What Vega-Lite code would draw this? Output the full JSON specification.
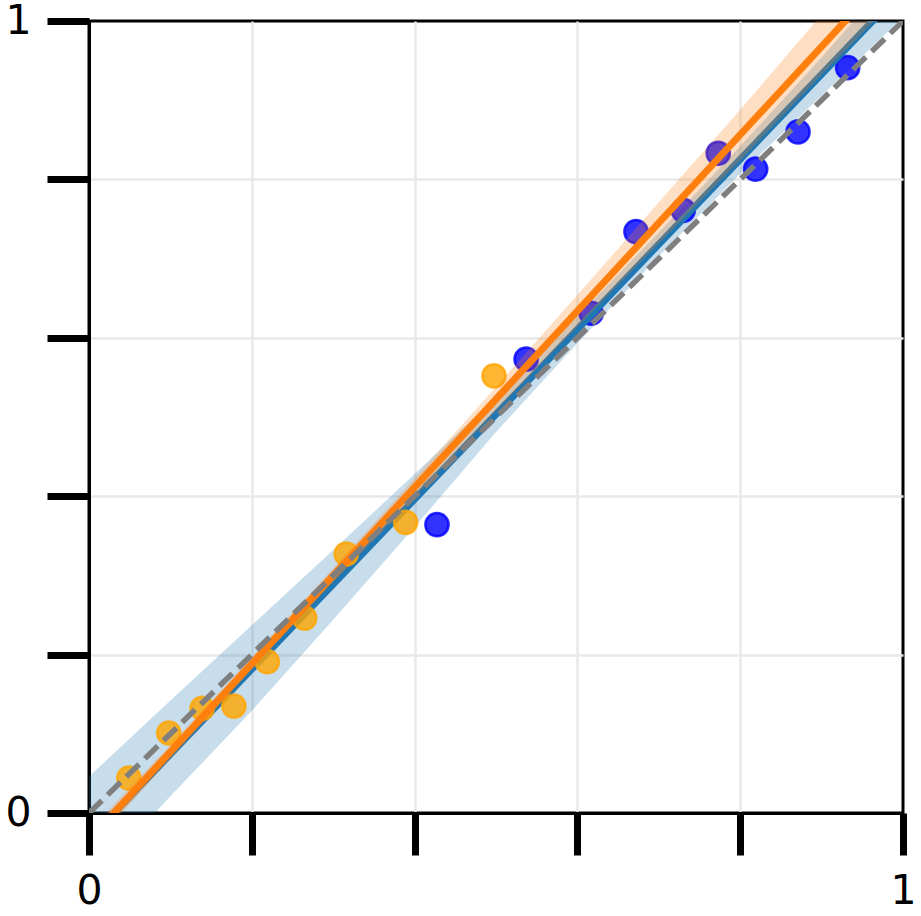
{
  "$schema": "https://vega.github.io/schema/vega-lite/v6.json",
  "width": 814,
  "height": 792,
  "autosize": {"type": "none"},
  "padding": {"left": 89, "top": 21, "right": 18, "bottom": 103},
  "background": "white",
  "config": {
    "view": {"stroke": "black", "strokeWidth": 3},
    "axis": {
      "tickSize": 42,
      "tickWidth": 7,
      "tickColor": "black",
      "domain": true,
      "domainColor": "black",
      "domainWidth": 3,
      "grid": true,
      "gridColor": "#e8e8e8",
      "gridWidth": 2.5,
      "gridOpacity": {"condition": {"test": "datum.value == 0 || datum.value == 1", "value": 0}, "value": 1},
      "labelFont": "DejaVu Sans",
      "labelFontSize": 41,
      "labelColor": "black",
      "labelPadding": 16,
      "labelFlush": false,
      "labelOverlap": false,
      "title": null
    }
  },
  "datasets": {
    "orangePts": [
      {"x": 0.049, "y": 0.044},
      {"x": 0.098, "y": 0.101},
      {"x": 0.139, "y": 0.132},
      {"x": 0.178, "y": 0.135},
      {"x": 0.219, "y": 0.191},
      {"x": 0.265, "y": 0.246},
      {"x": 0.316, "y": 0.327},
      {"x": 0.389, "y": 0.367},
      {"x": 0.4975, "y": 0.552}
    ],
    "bluePts": [
      {"x": 0.4275, "y": 0.364},
      {"x": 0.537, "y": 0.573},
      {"x": 0.617, "y": 0.631},
      {"x": 0.672, "y": 0.734},
      {"x": 0.730, "y": 0.761},
      {"x": 0.773, "y": 0.833},
      {"x": 0.819, "y": 0.813},
      {"x": 0.871, "y": 0.860},
      {"x": 0.932, "y": 0.941}
    ],
    "blueBand": [
      {"x": 0.0, "lo": -0.089, "hi": 0.046},
      {"x": 0.1, "lo": 0.021, "hi": 0.142},
      {"x": 0.2, "lo": 0.129, "hi": 0.237},
      {"x": 0.3, "lo": 0.244, "hi": 0.332},
      {"x": 0.4, "lo": 0.361, "hi": 0.428},
      {"x": 0.5, "lo": 0.481, "hi": 0.526},
      {"x": 0.6, "lo": 0.593, "hi": 0.627},
      {"x": 0.7, "lo": 0.703, "hi": 0.733},
      {"x": 0.8, "lo": 0.807, "hi": 0.842},
      {"x": 0.9, "lo": 0.906, "hi": 0.954},
      {"x": 1.0, "lo": 1.005, "hi": 1.071}
    ],
    "orangeBand": [
      {"x": 0.0, "lo": -0.046, "hi": -0.022},
      {"x": 0.1, "lo": 0.068, "hi": 0.086},
      {"x": 0.2, "lo": 0.181, "hi": 0.197},
      {"x": 0.3, "lo": 0.291, "hi": 0.309},
      {"x": 0.4, "lo": 0.399, "hi": 0.423},
      {"x": 0.5, "lo": 0.508, "hi": 0.538},
      {"x": 0.6, "lo": 0.614, "hi": 0.654},
      {"x": 0.7, "lo": 0.719, "hi": 0.771},
      {"x": 0.8, "lo": 0.824, "hi": 0.888},
      {"x": 0.9, "lo": 0.932, "hi": 1.008},
      {"x": 1.0, "lo": 1.037, "hi": 1.126}
    ],
    "blueLine": [
      {"x": 0.0, "y": -0.033},
      {"x": 1.0, "y": 1.040}
    ],
    "orangeLine": [
      {"x": 0.0, "y": -0.034},
      {"x": 1.0, "y": 1.079}
    ],
    "diag": [
      {"x": 0.0, "y": 0.0},
      {"x": 1.0, "y": 1.0}
    ]
  },
  "encoding": {
    "x": {"field": "x", "type": "quantitative", "scale": {"domain": [0, 1], "nice": false, "zero": false},
      "axis": {"values": [0, 0.2, 0.4, 0.6, 0.8, 1], "labelExpr": "datum.value == 0 ? '0' : (datum.value == 1 ? '1' : '')"}},
    "y": {"field": "y", "type": "quantitative", "scale": {"domain": [0, 1], "nice": false, "zero": false},
      "axis": {"values": [0, 0.2, 0.4, 0.6, 0.8, 1], "labelExpr": "datum.value == 0 ? '0' : (datum.value == 1 ? '1' : '')"}}
  },
  "layer": [
    {
      "data": {"name": "blueBand"},
      "mark": {"type": "area", "color": "#1f77b4", "opacity": 0.25, "clip": true},
      "encoding": {
        "y": {"field": "lo", "type": "quantitative"},
        "y2": {"field": "hi"}
      }
    },
    {
      "data": {"name": "bluePts"},
      "mark": {"type": "point", "filled": false, "fill": "blue", "fillOpacity": 0.8, "stroke": "blue", "strokeOpacity": 0.8, "strokeWidth": 2.5, "size": 540, "opacity": 1}
    },
    {
      "data": {"name": "blueLine"},
      "mark": {"type": "line", "color": "#1f77b4", "strokeWidth": 7, "clip": true}
    },
    {
      "data": {"name": "orangePts"},
      "mark": {"type": "point", "filled": false, "fill": "orange", "fillOpacity": 0.8, "stroke": "orange", "strokeOpacity": 0.8, "strokeWidth": 2.5, "size": 540, "opacity": 1}
    },
    {
      "data": {"name": "orangeBand"},
      "mark": {"type": "area", "color": "#ff7f0e", "opacity": 0.25, "clip": true},
      "encoding": {
        "y": {"field": "lo", "type": "quantitative"},
        "y2": {"field": "hi"}
      }
    },
    {
      "data": {"name": "orangeLine"},
      "mark": {"type": "line", "color": "#ff7f0e", "strokeWidth": 7, "clip": true}
    },
    {
      "data": {"name": "diag"},
      "mark": {"type": "line", "color": "#7f7f7f", "strokeWidth": 5.5, "strokeDash": [18, 8], "clip": true}
    }
  ]
}
